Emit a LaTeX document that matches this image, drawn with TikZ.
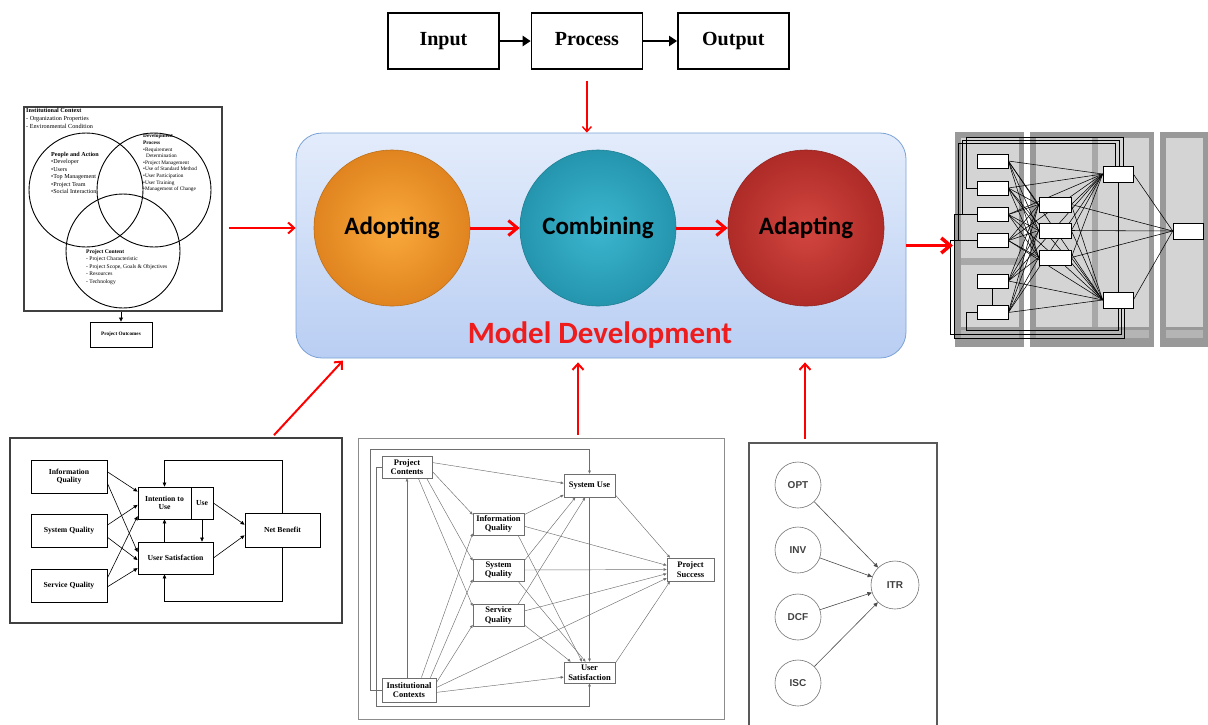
\documentclass[tikz,border=0pt]{standalone}
\usepackage{fontspec}
\setmainfont{Liberation Serif}
\newfontfamily\calibrifont{Carlito}
\newfontfamily\arialfont{Liberation Sans}
\usetikzlibrary{arrows.meta, positioning, calc, backgrounds}
\definecolor{flowred}{HTML}{FF0000}
\definecolor{titlered}{HTML}{EE1C1C}
\definecolor{modeltop}{HTML}{E3ECFB}
\definecolor{modelbot}{HTML}{B9CEF3}
\definecolor{modeledge}{HTML}{7BA2D6}
\definecolor{adoptin}{HTML}{F9A93C}
\definecolor{adoptout}{HTML}{E0841F}
\definecolor{combin}{HTML}{3CB6CF}
\definecolor{combout}{HTML}{2595AE}
\definecolor{adaptin}{HTML}{D34640}
\definecolor{adaptout}{HTML}{AE2B27}
\definecolor{paneldark}{HTML}{999999}
\definecolor{panellight}{HTML}{D4D4D4}
\definecolor{wire}{HTML}{6E6E6E}

\begin{document}
\begin{tikzpicture}[x=1pt, y=-1pt,
    ipo/.style={draw, line width=1.4pt, minimum width=111pt, minimum height=56pt,
                text height=13pt, text depth=4pt,
                font=\bfseries\fontsize{20}{23}\selectfont},
    ipoarrow/.style={-{Triangle[length=8pt,width=10pt]}, line width=2pt},
    modelbox/.style={draw=modeledge, line width=0.8pt, rounded corners=26pt,
                top color=modeltop, bottom color=modelbot,
                minimum width=610pt, minimum height=225pt},
    stage/.style={circle, minimum size=156pt, line width=0.6pt,
                font=\calibrifont\bfseries\fontsize{25}{28}\selectfont},
    bigarrow/.style={-{Straight Barb[length=9pt,width=15pt]}, line width=3pt, flowred},
    feedarrow/.style={-{Straight Barb[length=6pt,width=11pt]}, line width=2pt, flowred},
    thinarrow/.style={-{Straight Barb[length=5pt,width=9pt]}, line width=1.4pt, flowred},
    frame/.style={draw=black!75, line width=1.4pt},
    venncirc/.style={circle, draw, line width=0.9pt, minimum size=114pt},
    venntxt/.style={anchor=north west, align=left, inner sep=0pt},
    dlbox/.style={draw, line width=0.8pt, align=center, inner sep=1pt,
                font=\bfseries\fontsize{7.7}{8.7}\selectfont},
    dlarrow/.style={-{Triangle[length=4pt,width=3.6pt]}, line width=0.6pt},
    mpbox/.style={draw=wire, line width=0.7pt, align=center, inner sep=1pt, fill=white,
                font=\bfseries\fontsize{8.5}{9.5}\selectfont},
    mparrow/.style={-{Triangle[length=3pt,width=2.6pt]}, line width=0.45pt, wire},
    latent/.style={circle, draw=black!55, line width=0.6pt, minimum size=46pt,
                text=black!75, font=\arialfont\bfseries\fontsize{10}{11}\selectfont},
    latarrow/.style={-{Triangle[length=4.5pt,width=4pt]}, line width=0.6pt, black!70},
    tbox/.style={draw, fill=white, line width=0.6pt, inner sep=0pt,
                minimum width=31pt, minimum height=14pt},
    tline/.style={line width=0.55pt},
    node distance=32pt,
]
\useasboundingbox (0,0) rectangle (1208,724);

% input -> process -> output
\node[ipo] (input) at (443.5,41) {Input};
\node[ipo, right=31pt of input] (process) {Process};
\node[ipo, right=34pt of process] (output) {Output};
\foreach \a/\b in {input/process, process/output}
    \draw[ipoarrow] (\a) -- (\b);

% model development
\node[modelbox] (model) at (601,245.5) {};
\node[stage, draw=adoptout!85!black, inner color=adoptin, outer color=adoptout] (adopt) at (392,228) {Adopting};
\node[stage, draw=combout!85!black, inner color=combin, outer color=combout] (combine) at (598,228) {Combining};
\node[stage, draw=adaptout!85!black, inner color=adaptin, outer color=adaptout] (adapt) at (806,228) {Adapting};
\node[font=\calibrifont\bfseries\fontsize{31}{34}\selectfont, text=titlered] (title) at (600,335) {Model Development};
\foreach \a/\b in {adopt/combine, combine/adapt}
    \draw[bigarrow] (\a) -- (\b);
\draw[thinarrow, shorten <=11pt] (process.south) -- (process.south |- model.north);

% contextual framework
\node[frame, minimum width=198pt, minimum height=204pt] (venn) at (123,209) {};
\node[venncirc] (people) at (86,190) {};
\node[venncirc] (devproc) at (154,190) {};
\node[venncirc] (content) at (123,251) {};
\node[venntxt, font=\fontsize{6.2}{7.8}\selectfont] (ctx) at (26,108)
    {\textbf{Institutional Context}\\- Organization Properties\\- Environmental Condition};
\node[venntxt, font=\fontsize{6.1}{7.4}\selectfont] (ppl) at (51,152)
    {\textbf{People and Action}\\\textbullet Developer\\\textbullet Users\\\textbullet Top Management\\\textbullet Project Team\\\textbullet Social Interaction};
\node[venntxt, font=\fontsize{5.3}{6.6}\selectfont] (dev) at (143,134)
    {\textbf{Development}\\\textbf{Process}\\\textbullet Requirement\\\hspace*{3pt}Determination\\\textbullet Project Management\\\textbullet Use of Standard Method\\\textbullet User Participation\\\textbullet User Training\\\textbullet Management of Change};
\node[venntxt, font=\fontsize{5.6}{7.5}\selectfont] (cnt) at (86,249)
    {\textbf{Project Content}\\- Project Characteristic\\- Project Scope, Goals \& Objectives\\- Resources\\- Technology};
\node[draw, line width=0.9pt, minimum width=62pt, minimum height=25pt,
      font=\bfseries\fontsize{5.2}{6}\selectfont] (outcome) at (121,334.5) {Project Outcomes};
\draw[-{Triangle[length=4pt,width=4pt]}, line width=0.8pt] (venn.south -| outcome) -- (outcome);
\draw[feedarrow, shorten <=6pt] (venn.east |- adopt) -- (model.west |- adopt);

% is success model
\node[frame, minimum width=332pt, minimum height=185pt] (delone) at (176,530.5) {};
\node[dlbox, minimum width=76pt, minimum height=33pt] (iq) at (69,476.5) {Information\\Quality};
\node[dlbox, minimum width=76pt, minimum height=33pt] (sq) at (69,530.5) {System Quality};
\node[dlbox, minimum width=76pt, minimum height=33pt] (svq) at (69,585.5) {Service Quality};
\node[dlbox, minimum width=53pt, minimum height=32pt] (itu) at (164.5,503) {Intention to\\Use};
\node[dlbox, minimum width=22pt, minimum height=32pt] (use) at (202,503) {Use};
\node[dlbox, minimum width=75pt, minimum height=32pt] (us) at (175.5,558) {User Satisfaction};
\node[dlbox, minimum width=75pt, minimum height=34pt] (nb) at (282.5,530) {Net Benefit};
\foreach \a/\b in {iq.7/itu.157, iq.-10/us.171, sq.8/itu.184, sq.-10/us.183,
                   svq.11/itu.206, svq.-2/us.195, use.east/nb.172, us.east/nb.188}
    \draw[dlarrow] (\a) -- (\b);
\draw[dlarrow] (us.north -| itu.south) -- (itu.south);
\draw[dlarrow] (use.south) -- (use.south |- us.north);
\draw[dlarrow] (nb.north) |- ([yshift=26pt]itu.north) -- (itu.north);
\draw[dlarrow] (nb.south) |- ([yshift=-27pt]itu.south |- us.south) -- (itu.south |- us.south);
\draw[feedarrow, shorten <=3pt, shorten >=3pt] ([xshift=96pt]delone.north) -- ([xshift=-256pt]model.south);

% project success model
\node[draw=black!45, line width=0.8pt, minimum width=366pt, minimum height=281pt] (contrib) at (541,578.5) {};
\node[mpbox, minimum width=50pt, minimum height=22pt] (pc) at (407,467) {Project\\Contents};
\node[mpbox, minimum width=54pt, minimum height=24pt] (ic) at (409,690) {Institutional\\Contexts};
\node[mpbox, minimum width=51pt, minimum height=22pt] (miq) at (498.5,524) {Information\\Quality};
\node[mpbox, minimum width=51pt, minimum height=22pt] (msq) at (498.5,570) {System\\Quality};
\node[mpbox, minimum width=51pt, minimum height=22pt] (msv) at (498.5,615.5) {Service\\Quality};
\node[mpbox, minimum width=51pt, minimum height=23pt] (su) at (589.5,485.5) {System Use};
\node[mpbox, minimum width=51pt, minimum height=21pt] (usat) at (589.5,672.5) {User\\Satisfaction};
\node[mpbox, minimum width=47pt, minimum height=23pt] (ps) at (690.5,569.5) {Project\\Success};
\foreach \a/\b in {pc.10/su.175, pc.-10/miq.160, pc.-30/msq.160, pc.-45/msv.160,
                   ic.45/miq.200, ic.30/msq.200, ic.15/msv.200, ic.5/ps.200, ic.-5/usat.190,
                   miq.20/su.200, miq.-5/ps.170, miq.-30/usat.125,
                   msq.20/su.220, msq.0/ps.180, msq.-30/usat.110,
                   msv.30/su.250, msv.10/ps.190, msv.-20/usat.150,
                   su.270/usat.90, su.-20/ps.150, usat.20/ps.210}
    \draw[mparrow] (\a) -- (\b);
\draw[mparrow] (ic.north -| pc.south) -- (pc.south);
\draw[mparrow] (ic.west) -- ++(-11,0) |- ([yshift=24pt]su.north) -- (su.north);
\draw[mparrow] (pc.west) -- ++(-5,0) |- ([yshift=-23pt]usat.south) -- (usat.south);
\draw[feedarrow, shorten <=3pt, shorten >=4pt] ([xshift=37pt]contrib.north) -- ([xshift=37pt]contrib.north |- model.south);

% return model
\node[draw=black!65, line width=1.2pt, minimum width=188pt, minimum height=290pt] (itrframe) at (843,588) {};
\node[latent] (opt) at (798,485) {OPT};
\node[latent] (inv) at (798,550) {INV};
\node[latent] (dcf) at (798,617) {DCF};
\node[latent] (isc) at (798,683) {ISC};
\node[latent, minimum size=48pt] (itr) at (895,585) {ITR};
\foreach \a in {opt, inv, dcf, isc}
    \draw[latarrow] (\a) -- (itr);
\draw[feedarrow, shorten <=3pt, shorten >=4pt] ([xshift=-38pt]itrframe.north) -- ([xshift=-38pt]itrframe.north |- model.south);

% resulting model (thumbnail)
\begin{scope}[on background layer]
\foreach \xa/\xb in {955/1024, 1030/1154, 1160/1208} {
    \fill[paneldark] (\xa,132) rectangle (\xb,347);
    \fill[panellight] (\xa+6,138) rectangle (\xb-5,327);
    \fill[panellight!85!black] (\xa+6,330) rectangle (\xb-5,338);
}
\fill[paneldark!85] (961,258) rectangle (1019,265);
\fill[paneldark!85] (1092,138) rectangle (1098,327);
\end{scope}
\coordinate (thumb) at (955,240);
\node[tbox] (l1) at (992.5,161) {};
\node[tbox] (l2) at (992.5,188) {};
\node[tbox] (l3) at (992.5,214.5) {};
\node[tbox] (l4) at (992.5,240.5) {};
\node[tbox] (l5) at (992.5,281) {};
\node[tbox] (l6) at (992.5,312.5) {};
\node[tbox, minimum width=32pt, minimum height=15pt] (m1) at (1055,204.5) {};
\node[tbox, minimum width=32pt, minimum height=15pt] (m2) at (1055,230.5) {};
\node[tbox, minimum width=32pt, minimum height=15pt] (m3) at (1055,257.5) {};
\node[tbox, minimum width=30pt, minimum height=16pt] (r1) at (1118,174) {};
\node[tbox, minimum width=30pt, minimum height=16pt] (r2) at (1118,300) {};
\node[tbox, minimum width=30pt, minimum height=16pt] (fin) at (1188,231) {};
\begin{scope}[on background layer]
\foreach \a in {l1,l2,l3,l4,l5,l6}
    \foreach \b in {m1,m2,m3,r1,r2}
        \draw[tline] (\a.east) -- (\b.west);
\foreach \a in {m1,m2,m3}
    \foreach \b in {r1,r2,fin}
        \draw[tline] (\a.east) -- (\b.west);
\foreach \a/\b in {r1.east/fin.west, r2.east/fin.west, r1.south/r2.north, l5.south/l6.north}
    \draw[tline] (\a) -- (\b);
\foreach \a/\dx/\dy/\sx in {l2/10/28/5, l3/14/25/1, l4/18/22/-3}
    \draw[tline] (\a.west) -- ++(-\dx,0) |- ([xshift=\sx pt, yshift=\dy pt]r1.north) -- ([xshift=\sx pt]r1.north);
\foreach \a/\dx/\dy/\sx in {l3/22/-30/6, l4/26/-26/3, l6/10/-22/0}
    \draw[tline] (\a.west) -- ++(-\dx,0) |- ([xshift=\sx pt, yshift=\dy pt]r2.south) -- ([xshift=\sx pt]r2.south);
\end{scope}
\draw[bigarrow, line width=3.5pt, shorten >=2pt] (model.east) -- (model.east -| thumb);
\end{tikzpicture}
\end{document}
